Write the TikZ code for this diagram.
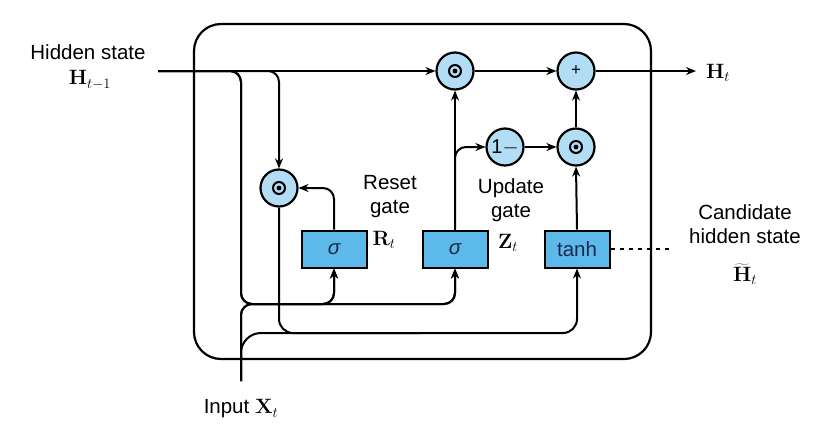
\documentclass[tikz,border=0pt]{standalone}
\usepackage[no-math]{fontspec}
\setmainfont{Liberation Sans}
\usetikzlibrary{arrows.meta}
\definecolor{cfill}{HTML}{B3DDF4}
\definecolor{bfill}{HTML}{5DB9EA}
\definecolor{sigcol}{HTML}{1A2A4A}
\begin{document}
\begin{tikzpicture}[x=1pt,y=-1pt,
  every node/.style={font=\fontsize{20.5}{24}\selectfont},
  wire/.style={line width=2pt},
  arr/.style={wire,-{Stealth[length=10pt,width=8pt]}},
  op/.style={circle,draw,line width=2.2pt,fill=cfill,minimum size=37pt,inner sep=0pt},
  gatebox/.style={rectangle,draw,line width=2pt,fill=bfill,minimum width=65pt,minimum height=37pt,inner sep=0pt},
  lbl/.style={align=center,inner sep=0pt}]
\useasboundingbox (0,0) rectangle (835,426);
% outer box
\draw[line width=2.2pt,rounded corners=27pt] (194,24) rectangle (651,359);
% nodes
\coordinate (hin) at (158,71);
\coordinate (hout) at (696,71);
\coordinate (xin) at (241,381);
\coordinate (dend) at (671,249);
\coordinate (xmid) at (420,333);
\node[op] (mulH) at (455,71) {};
\node[op] (plus) at (576,71) {\fontsize{17}{17}\selectfont +};
\node[op] (onem) at (505,147) {\fontsize{20}{20}\selectfont\rmfamily 1$-$};
\node[op] (mulZ) at (576,147) {};
\node[op] (mulR) at (279,188) {};
\node[gatebox] (sigR) at (334,249) {\color{sigcol}\itshape σ};
\node[gatebox] (sigZ) at (455,249) {\color{sigcol}\itshape σ};
\node[gatebox] (tanhb) at (577,249) {\color{sigcol}tanh};
% odot marks
\foreach \n in {mulH,mulZ,mulR}{
  \draw[line width=2pt] (\n.center) circle (6pt);
  \fill (\n.center) circle (2.4pt);
}
% labels
\node[lbl] (hs) at (88,52) {Hidden state};
\node[lbl] (hm1) at (90,80) {$\mathbf{H}_{t-1}$};
\node[lbl] (ht) at (718,73) {$\mathbf{H}_t$};
\node[lbl] (rg) at (390,197) {Reset\\gate};
\node[lbl] (rt) at (384,240) {$\mathbf{R}_t$};
\node[lbl] (ug) at (511,200) {Update\\gate};
\node[lbl] (zt) at (508,243) {$\mathbf{Z}_t$};
\node[lbl] (ch) at (745,224) {Candidate\\hidden state};
\node[lbl] (htil) at (745,274) {$\widetilde{\mathbf{H}}_t$};
\node[lbl] (xt) at (241,409) {Input $\mathbf{X}_t$};
% connectors
\draw[arr] (hin) -- (mulH);
\draw[arr] (mulH) -- (plus);
\draw[arr] (plus) -- (hout);
% H_{t-1} to gates
\draw[arr,rounded corners=11pt] (hin) -- (241,71) -- (241,304) -- (334,304) -- (sigR.south);
\draw[arr,rounded corners=11pt] (hin) -- (241,71) -- (241,304) -- (455,304) -- (sigZ.south);
% X_t to gates
\draw[arr,rounded corners=11pt] (xin) -- (241,304) -- (334,304) -- (sigR.south);
\draw[arr,rounded corners=11pt] (xin) -- (241,304) -- (455,304) -- (sigZ.south);
% X_t to tanh (joins the R*H line)
\draw[wire,rounded corners=20pt] (xin) -- (241,333) -- (xmid);
% H to reset multiply
\draw[arr,rounded corners=11pt] (hin) -- (279,71) -- (mulR.north);
% R to reset multiply
\draw[arr,rounded corners=11pt] (sigR.north) -- (334,188) -- (mulR.east);
% R*H to tanh
\draw[arr,rounded corners=14pt] (mulR.south) -- (279,333) -- (577,333) -- (tanhb.south);
% update gate
\draw[arr] (sigZ.north) -- (mulH.south);
\draw[arr,rounded corners=11pt] (sigZ.north) -- (455,147) -- (onem.west);
\draw[arr] (onem) -- (mulZ);
\draw[arr] (mulZ) -- (plus);
\draw[arr] (tanhb.north) -- (mulZ.south);
% dashed
\draw[wire,dash pattern=on 4pt off 5pt,line width=1.6pt] (tanhb.east) -- (dend);
\end{tikzpicture}
\end{document}
